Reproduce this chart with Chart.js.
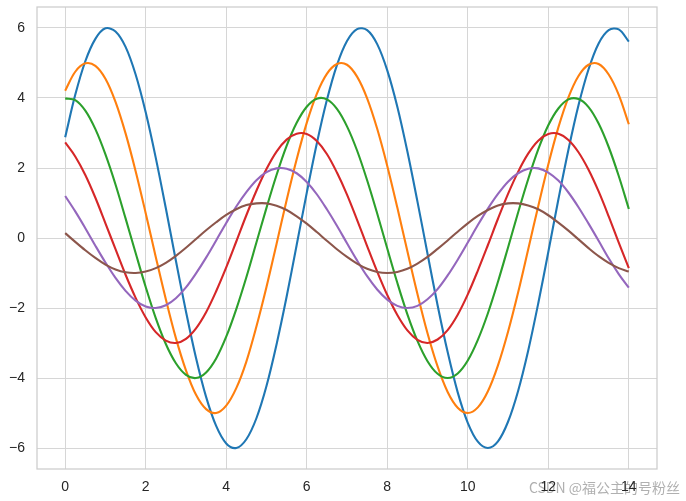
<!DOCTYPE html>
<html lang="zh">
<head>
    <meta charset="UTF-8">
    <title>sinplot</title>
    <script src="https://cdn.jsdelivr.net/npm/chart.js"></script>
    <style>
        * { margin: 0; padding: 0; }
        body { background: #ffffff; width: 686px; height: 501px; overflow: hidden; }
        #wrap { position: relative; width: 686px; height: 501px; }
    </style>
</head>
<body>
<div id="wrap"><canvas id="grafico"></canvas></div>
<script>
    // valores (passo 0.25 em x)
    const xs = [0, 0.25, 0.5, 0.75, 1, 1.25, 1.5, 1.75, 2, 2.25, 2.5, 2.75, 3, 3.25, 3.5, 3.75, 4, 4.25, 4.5, 4.75,
        5, 5.25, 5.5, 5.75, 6, 6.25, 6.5, 6.75, 7, 7.25, 7.5, 7.75, 8, 8.25, 8.5, 8.75, 9, 9.25, 9.5, 9.75,
        10, 10.25, 10.5, 10.75, 11, 11.25, 11.5, 11.75, 12, 12.25, 12.5, 12.75, 13, 13.25, 13.5, 13.75, 14];
    const azul = [2.88, 4.09, 5.05, 5.69, 5.99, 5.90, 5.46, 4.67, 3.59, 2.29, 0.85, -0.65, -2.10, -3.43, -4.54, -5.37, -5.87, -6.00, -5.75, -5.15,
        -4.23, -3.04, -1.68, -0.20, 1.29, 2.70, 3.94, 4.94, 5.63, 5.97, 5.94, 5.54, 4.79, 3.75, 2.47, 1.04, -0.45, -1.92, -3.26, -4.41,
        -5.28, -5.82, -6.00, -5.81, -5.25, -4.37, -3.22, -1.87, -0.40, 1.10, 2.52, 3.79, 4.82, 5.56, 5.94, 5.96, 5.61];
    const laranja = [4.21, 4.75, 4.99, 4.92, 4.55, 3.89, 2.99, 1.91, 0.71, -0.54, -1.75, -2.86, -3.78, -4.48, -4.89, -5.00, -4.79, -4.29, -3.53, -2.53,
        -1.40, -0.17, 1.08, 2.25, 3.29, 4.12, 4.69, 4.97, 4.95, 4.61, 3.99, 3.12, 2.06, 0.87, -0.38, -1.60, -2.72, -3.67, -4.40, -4.85,
        -5.00, -4.84, -4.38, -3.64, -2.68, -1.56, -0.33, 0.91, 2.10, 3.16, 4.02, 4.63, 4.95, 4.97, 4.67, 4.09, 3.25];
    const verde = [3.99, 3.94, 3.64, 3.11, 2.39, 1.53, 0.56, -0.43, -1.40, -2.29, -3.03, -3.58, -3.91, -4.00, -3.84, -3.44, -2.82, -2.03, -1.12, -0.13,
        0.86, 1.80, 2.63, 3.29, 3.75, 3.98, 3.96, 3.69, 3.19, 2.50, 1.65, 0.70, -0.30, -1.28, -2.18, -2.94, -3.52, -3.88, -4.00, -3.87,
        -3.50, -2.91, -2.15, -1.25, -0.27, 0.73, 1.68, 2.53, 3.22, 3.70, 3.96, 3.97, 3.74, 3.27, 2.60, 1.77, 0.83];
    const vermelho = [2.73, 2.33, 1.80, 1.15, 0.42, -0.32, -1.05, -1.71, -2.27, -2.69, -2.93, -3.00, -2.88, -2.58, -2.12, -1.52, -0.84, -0.10, 0.65, 1.35,
        1.97, 2.47, 2.81, 2.98, 2.97, 2.77, 2.40, 1.87, 1.24, 0.52, -0.23, -0.96, -1.63, -2.20, -2.64, -2.91, -3.00, -2.90, -2.63, -2.19,
        -1.61, -0.93, -0.20, 0.55, 1.26, 1.89, 2.41, 2.78, 2.97, 2.98, 2.80, 2.45, 1.95, 1.33, 0.62, -0.13, -0.86];
    const roxo = [1.20, 0.76, 0.28, -0.22, -0.70, -1.14, -1.51, -1.79, -1.96, -2.00, -1.92, -1.72, -1.41, -1.01, -0.56, -0.07, 0.43, 0.90, 1.31, 1.65,
        1.88, 1.99, 1.98, 1.85, 1.60, 1.25, 0.82, 0.35, -0.15, -0.64, -1.09, -1.47, -1.76, -1.94, -2.00, -1.94, -1.75, -1.46, -1.07, -0.62,
        -0.13, 0.37, 0.84, 1.26, 1.61, 1.85, 1.98, 1.99, 1.87, 1.64, 1.30, 0.88, 0.41, -0.08, -0.58, -1.03, -1.42];
    const marrom = [0.14, -0.11, -0.35, -0.57, -0.76, -0.90, -0.98, -1.00, -0.96, -0.86, -0.71, -0.51, -0.28, -0.03, 0.22, 0.45, 0.66, 0.82, 0.94, 0.99,
        0.99, 0.92, 0.80, 0.62, 0.41, 0.17, -0.08, -0.32, -0.54, -0.73, -0.88, -0.97, -1.00, -0.97, -0.88, -0.73, -0.54, -0.31, -0.07, 0.18,
        0.42, 0.63, 0.80, 0.93, 0.99, 0.99, 0.93, 0.82, 0.65, 0.44, 0.21, -0.04, -0.29, -0.52, -0.71, -0.86, -0.96];
    const xTicks = [0, 2, 4, 6, 8, 10, 12, 14];
    const yTicks = [-6, -4, -2, 0, 2, 4, 6];

    const series = [
        { dados: azul, cor: '#1f77b4' },
        { dados: laranja, cor: '#ff7f0e' },
        { dados: verde, cor: '#2ca02c' },
        { dados: vermelho, cor: '#d62728' },
        { dados: roxo, cor: '#9467bd' },
        { dados: marrom, cor: '#8c564b' }
    ];

    const fonte = "'Liberation Sans', Arial, sans-serif";

    // moldura cinza em volta da área do gráfico + marca d'água
    const moldura = {
        id: 'moldura',
        beforeDraw(chart) {
            const c = chart.ctx;
            c.save();
            c.fillStyle = 'rgba(150,150,150,0.75)';
            c.font = "14px 'Noto Sans CJK SC', sans-serif";
            c.textAlign = 'right';
            c.textBaseline = 'middle';
            c.fillText('CSDN @福公主的号粉丝', 680, 488);
            c.restore();
        },
        beforeDatasetsDraw(chart) {
            const a = chart.chartArea;
            const c = chart.ctx;
            c.save();
            c.strokeStyle = '#cccccc';
            c.lineWidth = 1.25;
            c.strokeRect(a.left, a.top, a.right - a.left, a.bottom - a.top);
            c.restore();
        }
    };

    const ctx = document.getElementById('grafico').getContext('2d');
    const grafico = new Chart(ctx, {
        type: 'line',
        data: {
            datasets: series.map((s, i) => ({
                data: xs.map((x, j) => ({ x: x, y: s.dados[j] })),
                borderColor: s.cor,
                borderWidth: 2.1,
                pointRadius: 0,
                tension: 0.35,
                fill: false,
                order: series.length - i
            }))
        },
        options: {
            responsive: true,
            maintainAspectRatio: false,
            animation: false,
            layout: { padding: { top: 7, right: 29, left: 0, bottom: 0 } },
            plugins: { legend: { display: false }, tooltip: { enabled: false } },
            scales: {
                x: {
                    type: 'linear',
                    min: -0.7,
                    max: 14.7,
                    afterBuildTicks: (s) => { s.ticks = xTicks.map(v => ({ value: v })); },
                    afterFit: (s) => { s.height = 32; s.paddingLeft = 0; s.paddingRight = 0; },
                    grid: { color: '#d6d6d6', lineWidth: 1, drawTicks: false },
                    border: { display: false },
                    ticks: {
                        padding: 10,
                        color: '#262626',
                        font: { family: fonte, size: 14 },
                        maxRotation: 0,
                        callback: (v) => String(v)
                    }
                },
                y: {
                    min: -6.6,
                    max: 6.6,
                    afterBuildTicks: (s) => { s.ticks = yTicks.map(v => ({ value: v })); },
                    afterFit: (s) => { s.width = 37; s.paddingTop = 0; s.paddingBottom = 0; },
                    grid: { color: '#d6d6d6', lineWidth: 1, drawTicks: false },
                    border: { display: false },
                    ticks: {
                        padding: 12,
                        color: '#262626',
                        font: { family: fonte, size: 14 },
                        callback: (v) => String(v).replace('-', '\u2212')
                    }
                }
            }
        },
        plugins: [moldura]
    });
</script>
</body>
</html>
